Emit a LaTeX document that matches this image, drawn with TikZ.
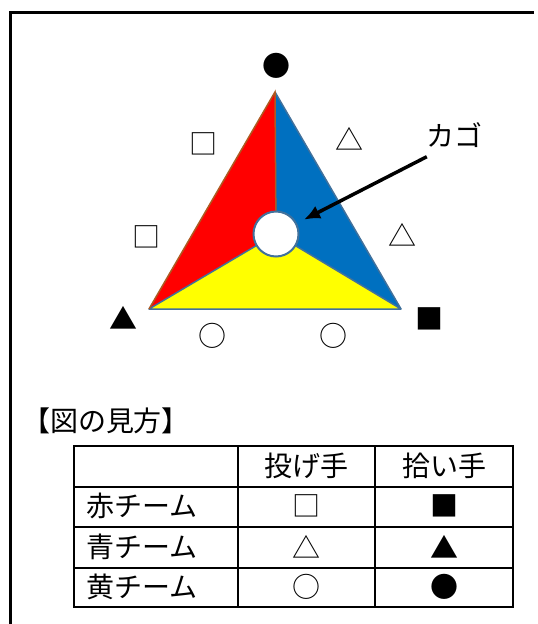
\documentclass[tikz,border=0pt]{standalone}
\usepackage{fontspec}
\setmainfont{Noto Sans CJK JP}
\usetikzlibrary{arrows.meta,positioning}
\definecolor{teamred}{RGB}{255,0,0}
\definecolor{teamblue}{RGB}{0,112,192}
\definecolor{teamyellow}{RGB}{255,255,0}
\definecolor{edgeblue}{RGB}{65,113,156}
\definecolor{edgebrown}{RGB}{174,90,33}

\begin{document}
\begin{tikzpicture}[x=1pt,y=-1pt,
  symb/.style={inner sep=0pt,font=\fontsize{28}{28}\selectfont},
  cell/.style={inner sep=0pt,font=\fontsize{28}{28}\selectfont},
  gridline/.style={line width=2pt}]
  \useasboundingbox (0,0) rectangle (538,624);
  % 外枠
  \draw[line width=3pt] (10,624) -- (10,12.5) -- (534,12.5);

  % 三角形(赤・青・黄)
  \coordinate (A) at (275,92);
  \coordinate (B) at (149,309);
  \coordinate (C) at (401,309);
  \coordinate (O) at (276,234);
  \fill[teamred] (A) -- (B) -- (O) -- cycle;
  \fill[teamblue] (A) -- (O) -- (C) -- cycle;
  \filldraw[fill=teamyellow,draw=edgeblue,line width=1.5pt,line join=round]
        (B) -- (C) -- (O) -- cycle;
  \draw[edgeblue,line width=1.5pt] (A) -- (C);
  \draw[edgebrown,line width=1.5pt] (B) -- (A) -- (O);
  \node[circle,fill=white,draw=edgeblue,line width=2pt,
        minimum size=45pt,inner sep=0pt] (kago) at (O) {};

  % 投げ手と拾い手
  \node[symb] (pickY) at (276,66) {●};
  \node[symb] (thrR1) at (203,144) {□};
  \node[symb] (thrR2) at (146,237) {□};
  \node[symb] (thrB1) at (349,139) {△};
  \node[symb] (thrB2) at (402,235) {△};
  \node[symb] (pickB) at (123,318) {▲};
  \node[symb] (pickR) at (429,319) {■};
  \node[symb] (thrY1) at (212,336) {○};
  \node[symb] (thrY2) at (333,336) {○};

  % カゴ
  \node[cell] (kagolbl) at (454,135) {カゴ};
  \draw[line width=3.5pt,-{Latex[length=16pt,width=14pt]},shorten >=8pt]
        ([xshift=1pt,yshift=-9pt]kagolbl.south west) -- (kago);

  % 図の見方
  \node[cell] (howto) at (106,421) {【図の見方】};
  \draw[gridline] (74,446) rectangle (513,607);
  \foreach \y in {486.5,527,567.5}
    \draw[gridline] (74,\y) -- (513,\y);
  \foreach \x in {238,375}
    \draw[gridline] (\x,446) -- (\x,607);
  \node[cell] (hthrow) at (306.5,466) {投げ手};
  \node[cell] (hpick) at (444,466) {拾い手};
  \foreach \team/\thr/\pick [count=\i] in {赤/□/■,青/△/▲,黄/○/●} {
    \pgfmathsetmacro{\yy}{446+40.25*\i+20}
    \node[cell,anchor=west] (team\i) at (86,\yy) {\team チーム};
    \node[cell] (thr\i) at (306.5,\yy) {\thr};
    \node[cell] (pick\i) at (444,\yy) {\pick};
  }
\end{tikzpicture}
\end{document}
